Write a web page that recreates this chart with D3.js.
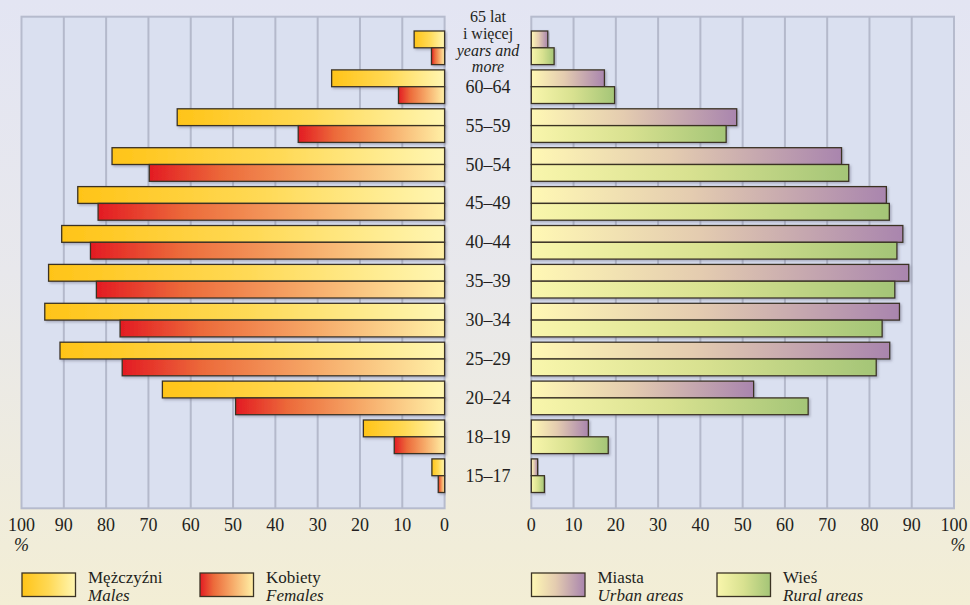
<!DOCTYPE html>
<html>
<head>
<meta charset="utf-8">
<script src="https://cdn.jsdelivr.net/npm/d3@7"></script>
<style>
  body { margin: 0; padding: 0; overflow: hidden; }
  svg text { font-family: "Liberation Serif", "DejaVu Serif", serif; fill: #231f20; }
</style>
</head>
<body>
<div id="chart"></div>
<script>
// age groups, top to bottom
var ages = ["65+", "60–64", "55–59", "50–54", "45–49", "40–44", "35–39", "30–34", "25–29", "20–24", "18–19", "15–17"];
// left panel
var males   = [7.2, 26.7, 63.2, 78.6, 86.7, 90.5, 93.6, 94.5, 90.9, 66.7, 19.2, 3.0];
var females = [3.1, 10.9, 34.6, 69.8, 81.9, 83.7, 82.3, 76.7, 76.2, 49.4, 11.9, 1.5];
// right panel
var urban = [3.9, 17.3, 48.6, 73.4, 84.0, 87.9, 89.3, 87.1, 84.8, 52.6, 13.5, 1.5];
var rural = [5.4, 19.7, 46.1, 75.1, 84.7, 86.5, 86.0, 83.0, 81.6, 65.5, 18.2, 3.1];
var ticks = [0, 10, 20, 30, 40, 50, 60, 70, 80, 90, 100];
var topLabel = [["65 lat", false], ["i więcej", false], ["years and", true], ["more", true]];

var W = 970, H = 605;
var panelTop = 16.7, panelBottom = 508.3;

var svg = d3.select("#chart").append("svg")
  .attr("width", W).attr("height", H);

var defs = svg.append("defs");

function grad(id, stops, dir) {
  var g = defs.append("linearGradient").attr("id", id)
    .attr("x1", 0).attr("y1", 0)
    .attr("x2", dir == "v" ? 0 : 1).attr("y2", dir == "v" ? 1 : 0);
  stops.forEach(function(s) {
    g.append("stop").attr("offset", s[0]).attr("stop-color", s[1]);
  });
}
grad("bg", [[0, "#e3e5f3"], [0.45, "#e8e8ec"], [1, "#f3eed5"]], "v");
grad("gMale", [[0, "#ffc418"], [0.5, "#ffd955"], [1, "#fff6b2"]]);
grad("gFemale", [[0, "#e31b23"], [0.25, "#ec6a3a"], [0.6, "#f6a968"], [1, "#fff0a6"]]);
grad("gUrban", [[0, "#fff8b4"], [0.45, "#e4ccb0"], [1, "#a985ae"]]);
grad("gRural", [[0, "#f9f6ac"], [0.5, "#d8e190"], [1, "#a4c577"]]);

var shadow = defs.append("filter").attr("id", "shadow")
  .attr("x", "-5%").attr("y", "-20%").attr("width", "115%").attr("height", "160%");
shadow.append("feDropShadow").attr("dx", 1.5).attr("dy", 1.5)
  .attr("stdDeviation", 0.8).attr("flood-color", "#6a6a80").attr("flood-opacity", 0.45);

svg.append("rect").attr("width", W).attr("height", H).attr("fill", "url(#bg)");

// scales
var xL = d3.scaleLinear().domain([0, 100]).range([444.6, 21.5]);
var xR = d3.scaleLinear().domain([0, 100]).range([531.3, 954]);
var step = 38.9;
var y = d3.scaleBand().domain(ages)
  .range([31 - step * 0.068, 31 - step * 0.068 + step * 12])
  .paddingInner(0.136).paddingOuter(0.068);
var ySub = d3.scaleBand().domain([0, 1]).range([0, y.bandwidth()]);

function panel(x, s1, s2, g1, g2, left) {
  var g = svg.append("g");
  var x0 = Math.min(x(0), x(100)), x1 = Math.max(x(0), x(100));
  g.append("rect")
    .attr("x", x0).attr("y", panelTop)
    .attr("width", x1 - x0).attr("height", panelBottom - panelTop)
    .attr("fill", "#dae0f0").attr("stroke", "#b6bbcd").attr("stroke-width", 2);
  g.selectAll(".grid").data(ticks.slice(1, 10)).enter().append("line")
    .attr("x1", function(d) { return x(d); }).attr("x2", function(d) { return x(d); })
    .attr("y1", panelTop).attr("y2", panelBottom)
    .attr("stroke", "#b4b9cb").attr("stroke-width", 2);

  var series = [[s1, g1], [s2, g2]];
  series.forEach(function(sr, k) {
    g.selectAll(".bar" + k).data(sr[0]).enter().append("rect")
      .attr("x", function(d) { return left ? x(d) : x(0); })
      .attr("width", function(d) { return Math.abs(x(d) - x(0)); })
      .attr("y", function(d, i) { return y(ages[i]) + ySub(k); })
      .attr("height", ySub.bandwidth())
      .attr("fill", "url(#" + sr[1] + ")")
      .attr("stroke", "#3b3324").attr("stroke-width", 1.3)
      .attr("filter", "url(#shadow)");
  });

  // tick labels
  g.selectAll(".tick").data(ticks).enter().append("text")
    .attr("x", function(d) { return x(d); })
    .attr("y", 531)
    .attr("text-anchor", "middle")
    .style("font-size", "18px")
    .text(function(d) { return d; });
  g.append("text")
    .attr("x", x(100) + (left ? 0 : 4)).attr("y", 551)
    .attr("text-anchor", "middle")
    .style("font-size", "18px").style("font-style", "italic")
    .text("%");
}
panel(xL, males, females, "gMale", "gFemale", true);
panel(xR, urban, rural, "gUrban", "gRural", false);

// age labels in the middle
var cx = 488;
svg.selectAll(".age").data(ages.slice(1)).enter().append("text")
  .attr("x", cx)
  .attr("y", function(d) { return y(d) + y.bandwidth() / 2 + 6; })
  .attr("text-anchor", "middle")
  .style("font-size", "18px")
  .text(function(d) { return d; });
var c0 = y(ages[0]) + y.bandwidth() / 2;
svg.selectAll(".top").data(topLabel).enter().append("text")
  .attr("x", cx)
  .attr("y", function(d, i) { return c0 - 25.5 + i * 16.6; })
  .attr("text-anchor", "middle")
  .style("font-size", "16px")
  .style("font-style", function(d) { return d[1] ? "italic" : "normal"; })
  .text(function(d) { return d[0]; });

// legend
var legend = [
  ["gMale", "Mężczyźni", "Males", 22],
  ["gFemale", "Kobiety", "Females", 200],
  ["gUrban", "Miasta", "Urban areas", 531.5],
  ["gRural", "Wieś", "Rural areas", 717]
];
var lg = svg.selectAll(".leg").data(legend).enter().append("g")
  .attr("transform", function(d) { return "translate(" + d[3] + ",573)"; });
lg.append("rect")
  .attr("width", 53.5).attr("height", 23.5)
  .attr("fill", function(d) { return "url(#" + d[0] + ")"; })
  .attr("stroke", "#3b3324").attr("stroke-width", 1.3);
lg.append("text").attr("x", 66).attr("y", 10)
  .style("font-size", "17px")
  .text(function(d) { return d[1]; });
lg.append("text").attr("x", 66).attr("y", 28)
  .style("font-size", "17px").style("font-style", "italic")
  .text(function(d) { return d[2]; });
</script>
</body>
</html>
